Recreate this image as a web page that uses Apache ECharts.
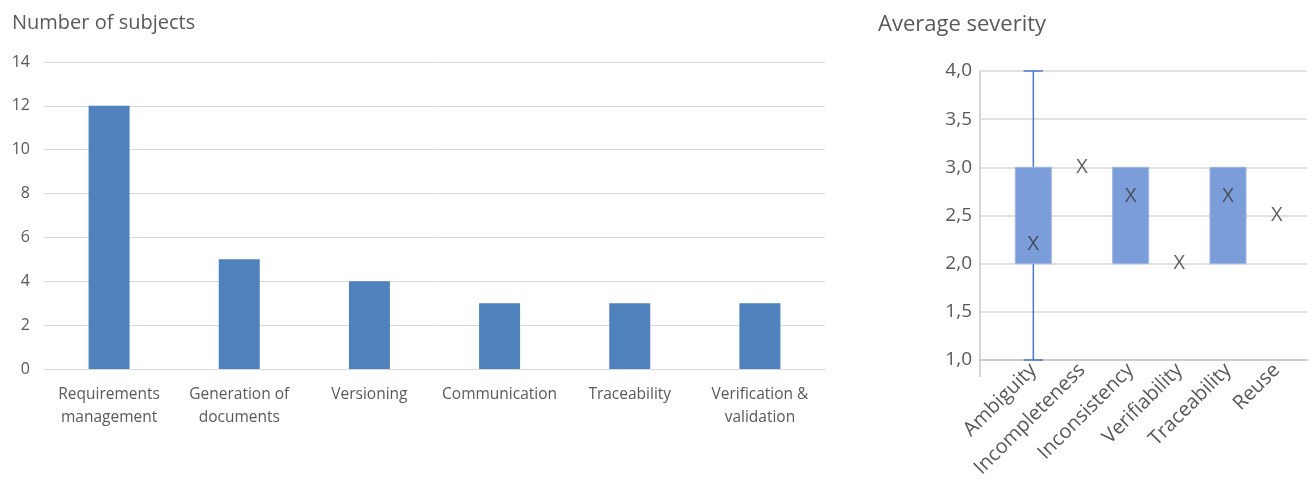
<!DOCTYPE html>
<html>
<head>
<meta charset="utf-8">
<script src="https://cdn.jsdelivr.net/npm/echarts@6/dist/echarts.min.js"></script>
<style>
  html, body { margin: 0; padding: 0; background: #ffffff; }
  #chart { width: 1312px; height: 484px; }
</style>
</head>
<body>
<div id="chart"></div>
<script>
// Left panel: number of subjects per topic
var subjectCategories = ['Requirements\nmanagement', 'Generation of\ndocuments', 'Versioning', 'Communication', 'Traceability', 'Verification &\nvalidation'];
var subjectCounts = [12, 5, 4, 3, 3, 3];
var subjectTicks = { min: 0, max: 14, interval: 2 };

// Right panel: severity distribution per defect type
var severityCategories = ['Ambiguity', 'Incompleteness', 'Inconsistency', 'Verifiability', 'Traceability', 'Reuse'];
var severityMin  = [1, 3, 2, 2, 2, 2.5];
var severityQ1   = [2, 3, 2, 2, 2, 2.5];
var severityQ3   = [3, 3, 3, 2, 3, 2.5];
var severityMax  = [4, 3, 3, 2, 3, 2.5];
var severityMean = [2.2, 3.0, 2.7, 2.0, 2.7, 2.5];
var severityTicks = { min: 1, max: 4, interval: 0.5 };

var FONT = '"Open Sans", "Noto Sans", sans-serif';
var TEXT = '#595959';
var GRIDLINE = '#D9D9D9';
var AXISLINE = '#C6C6C6';
var sevGridLeft = 980;

var boxData = severityCategories.map(function (c, i) {
  return [i, severityMin[i], severityQ1[i], severityQ3[i], severityMax[i]];
});
var meanData = severityCategories.map(function (c, i) { return [i, severityMean[i]]; });

function renderBox(params, api) {
  var i = api.value(0);
  var lo = api.coord([i, api.value(1)]);
  var q1 = api.coord([i, api.value(2)]);
  var q3 = api.coord([i, api.value(3)]);
  var hi = api.coord([i, api.value(4)]);
  var band = api.size([1, 0])[0];
  var half = band * 0.37;
  var cap = band * 0.2;
  var x = q1[0];
  var lineStyle = { stroke: '#4A78CC', lineWidth: 1.5 };
  var children = [];
  if (hi[1] < q3[1] - 0.5) {
    children.push({ type: 'line', shape: { x1: x, y1: hi[1], x2: x, y2: q3[1] }, style: lineStyle });
    children.push({ type: 'line', shape: { x1: x - cap, y1: hi[1], x2: x + cap, y2: hi[1] }, style: lineStyle });
  }
  if (lo[1] > q1[1] + 0.5) {
    children.push({ type: 'line', shape: { x1: x, y1: q1[1], x2: x, y2: lo[1] }, style: lineStyle });
    children.push({ type: 'line', shape: { x1: x - cap, y1: lo[1], x2: x + cap, y2: lo[1] }, style: lineStyle });
  }
  if (q1[1] - q3[1] > 0.5) {
    children.push({
      type: 'rect',
      shape: { x: x - half, y: q3[1], width: half * 2, height: q1[1] - q3[1] },
      style: { fill: '#7B9DDA', stroke: '#9DB6E6', lineWidth: 1 }
    });
  }
  return { type: 'group', children: children };
}

var chart = echarts.init(document.getElementById('chart'), null, { renderer: 'canvas' });

chart.setOption({
  animation: false,
  backgroundColor: '#ffffff',
  textStyle: { fontFamily: FONT },
  title: [
    { text: 'Number of subjects', left: 12, top: 13, padding: 0,
      textStyle: { fontFamily: FONT, fontSize: 20, fontWeight: 'normal', color: TEXT } },
    { text: 'Average severity', left: 878, top: 14, padding: 0,
      textStyle: { fontFamily: FONT, fontSize: 22, fontWeight: 'normal', color: TEXT } }
  ],
  grid: [
    { left: 44, right: 487, top: 62, bottom: 115 },
    { left: sevGridLeft, right: 5, top: 71, bottom: 124 },
    { left: 1009, right: 11, top: 71, bottom: 124 }
  ],
  xAxis: [
    {
      type: 'category', gridIndex: 0, data: subjectCategories,
      axisLine: { show: true, lineStyle: { color: GRIDLINE, width: 1 } },
      axisTick: { show: false },
      axisLabel: { color: TEXT, fontSize: 15.5, fontFamily: FONT, lineHeight: 23, margin: 14, interval: 0 }
    },
    {
      type: 'category', gridIndex: 1, data: severityCategories,
      axisLine: { show: true, lineStyle: { color: AXISLINE, width: 1.5 } },
      axisTick: { show: false },
      axisLabel: { show: false }
    },
    {
      type: 'category', gridIndex: 2, data: severityCategories,
      axisLine: { show: false },
      axisTick: { show: false },
      axisLabel: { color: TEXT, fontSize: 20, fontFamily: FONT, rotate: 45, margin: 7, interval: 0 }
    }
  ],
  yAxis: [
    {
      type: 'value', gridIndex: 0,
      min: subjectTicks.min, max: subjectTicks.max, interval: subjectTicks.interval,
      axisLine: { show: false }, axisTick: { show: false },
      axisLabel: { color: TEXT, fontSize: 16, fontFamily: FONT, margin: 14 },
      splitLine: { lineStyle: { color: GRIDLINE, width: 1 } }
    },
    {
      type: 'value', gridIndex: 1,
      min: severityTicks.min, max: severityTicks.max, interval: severityTicks.interval,
      axisLine: { show: true, lineStyle: { color: AXISLINE, width: 1.5 } },
      axisTick: { show: false },
      axisLabel: { color: TEXT, fontSize: 19, fontFamily: FONT, margin: 8,
        formatter: function (v) { return v.toFixed(1).replace('.', ','); } },
      splitLine: { lineStyle: { color: GRIDLINE, width: 1.5 } }
    },
    {
      type: 'value', gridIndex: 2,
      min: severityTicks.min, max: severityTicks.max, interval: severityTicks.interval,
      show: false
    }
  ],
  series: [
    {
      name: 'Number of subjects', type: 'bar', xAxisIndex: 0, yAxisIndex: 0,
      data: subjectCounts, barWidth: 41,
      itemStyle: { color: '#4F81BD' }
    },
    {
      name: 'Severity range', type: 'custom', xAxisIndex: 2, yAxisIndex: 2,
      data: boxData, renderItem: renderBox, encode: { x: 0, y: [1, 2, 3, 4] }
    },
    {
      name: 'Mean severity', type: 'scatter', xAxisIndex: 2, yAxisIndex: 2,
      data: meanData, symbol: 'circle', symbolSize: 1,
      itemStyle: { color: 'rgba(0,0,0,0)' },
      label: { show: true, position: 'inside', formatter: 'X', fontFamily: FONT,
        fontSize: 20, fontWeight: 'normal', color: '#3A3A3A' },
      z: 5
    }
  ]
});

// Extend the severity axis line a little below the lowest gridline
var yBottom = chart.convertToPixel({ yAxisIndex: 1 }, severityTicks.min);
chart.setOption({
  graphic: [{
    type: 'line', silent: true,
    shape: { x1: sevGridLeft, y1: yBottom, x2: sevGridLeft, y2: yBottom + 17 },
    style: { stroke: AXISLINE, lineWidth: 1.5 }
  }]
});
</script>
</body>
</html>
